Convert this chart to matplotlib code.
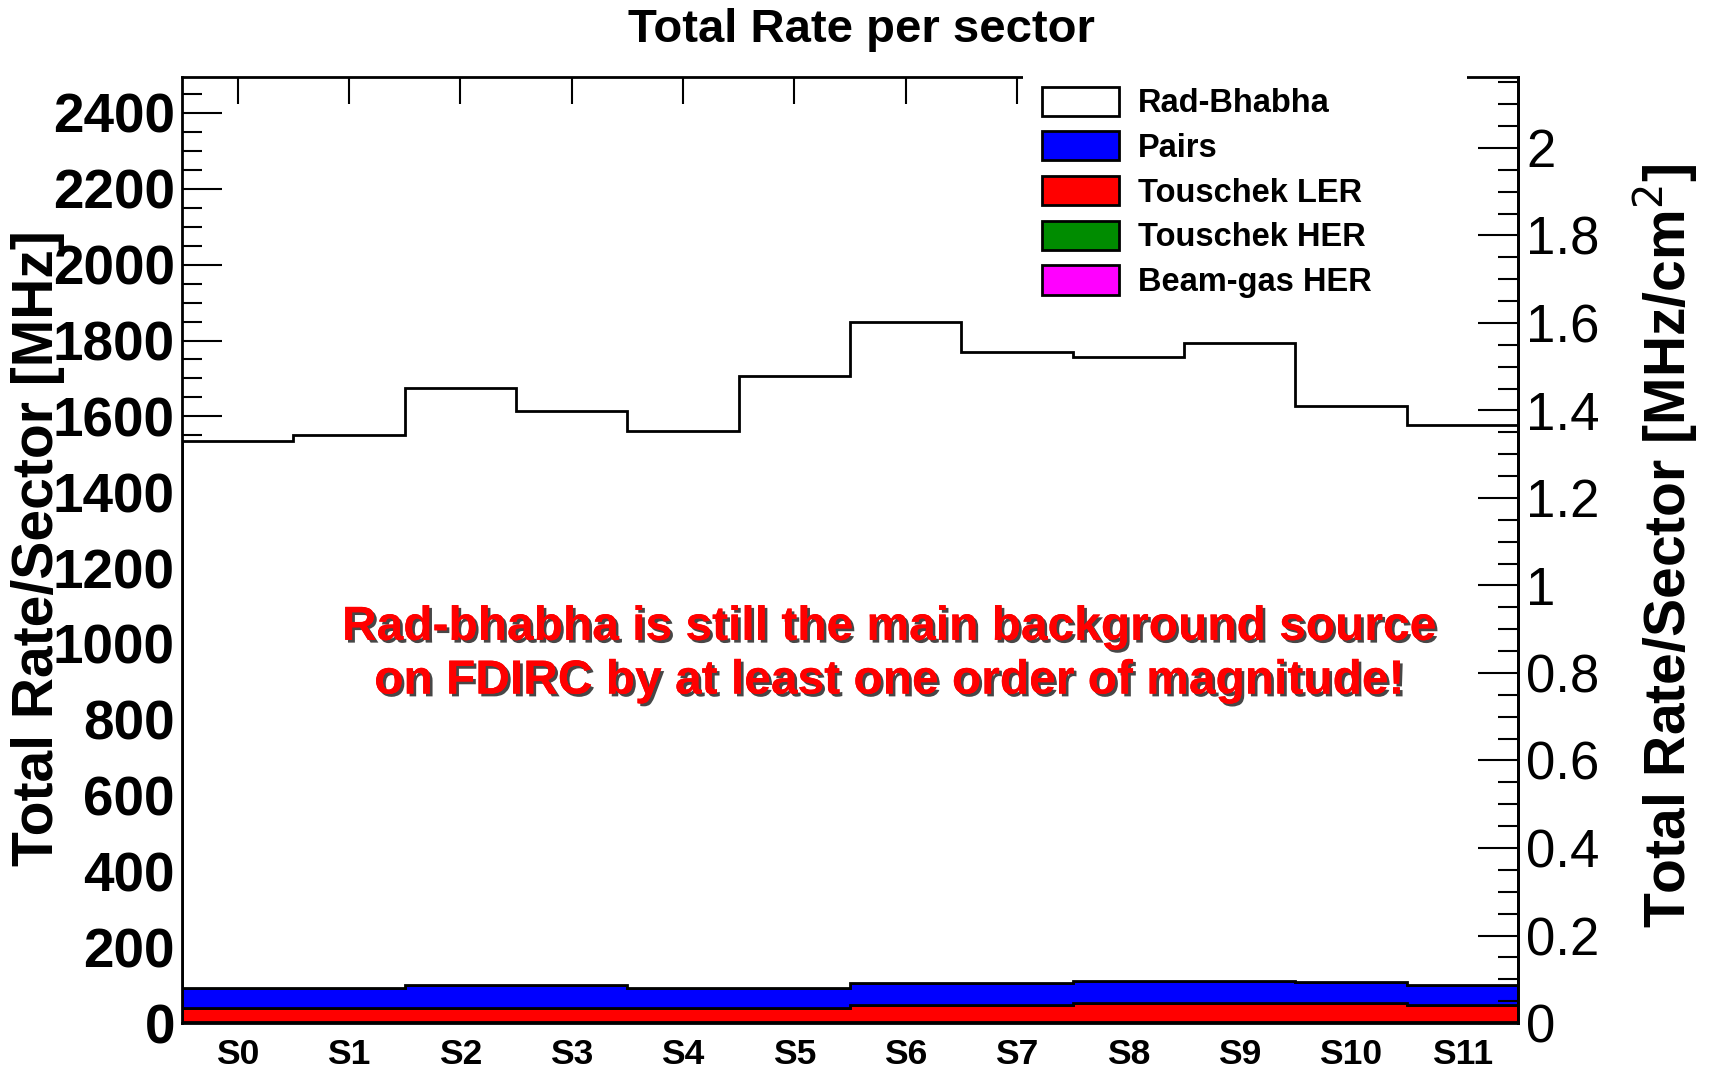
import matplotlib
matplotlib.use("Agg")
import matplotlib.pyplot as plt
import matplotlib.patheffects as pe
from matplotlib.patches import Patch, Rectangle
from matplotlib.ticker import MultipleLocator, FixedLocator
import numpy as np

plt.rcParams['font.family'] = ['Liberation Sans', 'DejaVu Sans']

# per-sector rates [MHz]
sectors = ['S0', 'S1', 'S2', 'S3', 'S4', 'S5', 'S6', 'S7', 'S8', 'S9', 'S10', 'S11']
beamgas_her = [1.0, 1.0, 1.0, 1.0, 1.0, 1.0, 1.0, 1.0, 1.0, 1.0, 1.0, 1.0]
touschek_her = [2.0, 2.0, 2.0, 2.0, 2.0, 2.0, 2.0, 2.0, 2.0, 2.0, 2.0, 2.0]
touschek_ler = [37, 37, 37, 37, 37, 37, 44, 44, 51, 51, 51, 44]
pairs = [52, 52, 59, 59, 52, 52, 58, 58, 58, 58, 53, 52]
rad_bhabha = [1444, 1459, 1576, 1514, 1470, 1614, 1744, 1664, 1644, 1682, 1519, 1478]

# stack order bottom -> top, legend order is reversed
layers = [
    ("Beam-gas HER", beamgas_her, "#ff00ff"),
    ("Touschek HER", touschek_her, "#008c00"),
    ("Touschek LER", touschek_ler, "#ff0000"),
    ("Pairs", pairs, "#0000ff"),
    ("Rad-Bhabha", rad_bhabha, "#ffffff"),
]

ymax = 2495.0
area_factor = 1154.0  # MHz -> MHz/cm^2 for the right axis

fig = plt.figure(figsize=(17.10, 10.69), dpi=100)
ax = fig.add_axes([0.1064, 0.043, 0.7813, 0.885])

edges = np.arange(len(sectors) + 1)
base = np.zeros(len(sectors))
for name, vals, col in layers:
    vals = np.array(vals, dtype=float)
    ax.stairs(base + vals, edges, baseline=base, fill=True, facecolor=col,
              edgecolor='black', linewidth=2, zorder=2)
    base = base + vals

ax.set_xlim(0, len(sectors))
ax.set_ylim(0, ymax)

ax.xaxis.set_major_locator(FixedLocator(edges[:-1] + 0.5))
ax.set_xticklabels(sectors, fontsize=25.5, fontweight='bold')
ax.tick_params(axis='x', which='major', direction='in', length=19.5, width=1.5,
               top=True, bottom=True, pad=11)
ax.xaxis.set_minor_locator(FixedLocator([]))

ax.yaxis.set_major_locator(MultipleLocator(200))
ax.yaxis.set_minor_locator(MultipleLocator(50))
ax.tick_params(axis='y', which='major', direction='in', length=29, width=1.5,
               left=True, right=False, labelsize=39.5, pad=5)
ax.tick_params(axis='y', which='minor', direction='in', length=14.5, width=1.5,
               left=True, right=False)
for lab in ax.get_yticklabels():
    lab.set_fontweight('bold')
for s in ax.spines.values():
    s.set_linewidth(2)

# right axis in MHz/cm^2
ax2 = ax.twinx()
ax2.set_ylim(0, ymax / area_factor)
r_ticks = np.arange(0, 2.01, 0.2)
ax2.yaxis.set_major_locator(FixedLocator(r_ticks))
ax2.set_yticklabels(['%g' % round(t, 1) for t in r_ticks], fontsize=38)
ax2.yaxis.set_minor_locator(MultipleLocator(0.05))
ax2.tick_params(axis='y', which='major', direction='in', length=29, width=1.5, pad=6)
ax2.tick_params(axis='y', which='minor', direction='in', length=14.5, width=1.5)
for side in ['top', 'left', 'bottom']:
    ax2.spines[side].set_visible(False)
ax2.spines['right'].set_linewidth(2)

# white legend box covering the top frame
ax2.add_patch(Rectangle((0.598, 0.719), 0.26, 0.225, transform=fig.transFigure,
                        facecolor='white', edgecolor='none', zorder=9, clip_on=False))
handles = [Patch(facecolor=col, edgecolor='black', linewidth=2, label=name)
           for name, vals, col in layers[::-1]]
leg = ax2.legend(handles=handles, loc='upper left', bbox_to_anchor=(0.6093, 0.919),
                 bbox_transform=fig.transFigure, frameon=False,
                 prop={'size': 23.5, 'weight': 'bold'}, handlelength=2.35,
                 handleheight=1.0, handletextpad=0.6, labelspacing=0.365,
                 borderpad=0, borderaxespad=0)
leg.set_zorder(10)

fig.text(0.504, 0.972, "Total Rate per sector", ha='center', va='center',
         fontsize=34, fontweight='bold')
fig.text(0.022, 0.487, "Total Rate/Sector [MHz]", rotation=90, ha='center',
         va='center', fontsize=41, fontweight='bold')
fig.text(0.974, 0.489, "Total Rate/Sector [MHz/cm$^{2}$]", rotation=90, ha='center',
         va='center', fontsize=41, fontweight='bold')

ax2.text(0.52, 0.388, "Rad-bhabha is still the main background source\n"
         "on FDIRC by at least one order of magnitude!",
         transform=fig.transFigure, ha='center', va='center', fontsize=34.5,
         fontweight='bold', color='#ff0000', linespacing=1.25, zorder=11,
         path_effects=[pe.withSimplePatchShadow(offset=(2, -2), shadow_rgbFace='#333333',
                                                alpha=0.9), pe.Normal()])

fig.savefig("out.png", dpi=100)
